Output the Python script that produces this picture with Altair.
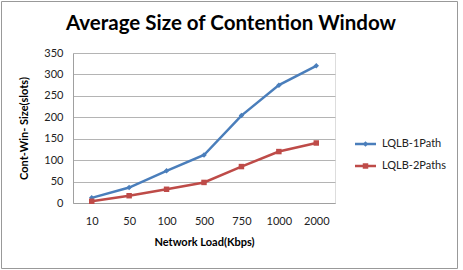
import altair as alt
import pandas as pd

loads = ["10", "50", "100", "500", "750", "1000", "2000"]
one_path = [12, 36, 75, 112, 204, 275, 320]
two_paths = [4, 17, 32, 48, 85, 120, 140]
series_names = ["LQLB-1Path", "LQLB-2Paths"]
colors = ["#4A7EBB", "#BE4B48"]
shapes = ["diamond", "square"]

rows = []
for i, l in enumerate(loads):
    rows.append({"load": l, "value": one_path[i], "series": series_names[0], "order": i})
    rows.append({"load": l, "value": two_paths[i], "series": series_names[1], "order": i})
df = pd.DataFrame(rows)
leg_df = pd.DataFrame({"series": series_names})

FONT = "Lato"

x = alt.X("load:N", sort=loads, title="Network Load(Kbps)",
          scale=alt.Scale(paddingOuter=0.5),
          axis=alt.Axis(labelAngle=0, ticks=False, domainColor="#a0a0a0",
                        labelPadding=12, titlePadding=10, labelFontSize=11,
                        titleFontSize=11, titleFontWeight="bold", labelColor="#222",
                        labelFont=FONT, titleFont=FONT, grid=False))
y = alt.Y("value:Q", title="Cont-Win- Size(slots)",
          scale=alt.Scale(domain=[0, 350], nice=False),
          axis=alt.Axis(values=[0, 50, 100, 150, 200, 250, 300, 350], ticks=False,
                        domainColor="#a0a0a0", gridColor="#b4b4b4", labelPadding=10,
                        labelFontSize=11, titleFontSize=11, titleFontWeight="bold",
                        titlePadding=14, labelColor="#222", labelFont=FONT, titleFont=FONT))

cscale = alt.Scale(domain=series_names, range=colors)
sscale = alt.Scale(domain=series_names, range=shapes)

base = alt.Chart(df)
lines = base.mark_line(strokeWidth=2.5).encode(
    x=x, y=y, color=alt.Color("series:N", scale=cscale, legend=None), order="order:Q")
points = base.mark_point(filled=True, opacity=1, size=30).encode(
    x=x, y=y,
    color=alt.Color("series:N", scale=cscale, legend=None),
    shape=alt.Shape("series:N", scale=sscale, legend=None))
main = alt.layer(lines, points)

# manual legend (line + marker + label)
ly = alt.Y("series:N", axis=None,
           scale=alt.Scale(type="point", domain=series_names, range=[91, 113], padding=0))
lbase = alt.Chart(leg_df)
leg_rule = lbase.mark_rule(strokeWidth=2.5).encode(
    x=alt.value(282), x2=alt.value(303), y=ly,
    color=alt.Color("series:N", scale=cscale, legend=None))
leg_pt = lbase.mark_point(filled=True, opacity=1, size=30).encode(
    x=alt.value(292.5), y=ly,
    color=alt.Color("series:N", scale=cscale, legend=None),
    shape=alt.Shape("series:N", scale=sscale, legend=None))
leg_txt = lbase.mark_text(align="left", baseline="middle", font=FONT, fontSize=11, color="#222").encode(
    x=alt.value(309), y=ly, text="series:N")
legend = alt.layer(leg_rule, leg_pt, leg_txt)

border = alt.Chart(pd.DataFrame({"a": [0]})).mark_rect(fill=None, stroke="#999999", strokeWidth=1).encode(
    x=alt.value(-71.5), x2=alt.value(384.5), y=alt.value(-51.5), y2=alt.value(215.5))

chart = alt.layer(main, legend, border).resolve_scale(y="independent").properties(
    width=262, height=150,
    autosize=alt.AutoSizeParams(type="none"),
    padding={"left": 73, "top": 53, "right": 128, "bottom": 67},
    title=alt.TitleParams("Average Size of Contention Window", font=FONT, fontSize=20.5,
                          fontWeight="bold", anchor="middle", dx=27, offset=-33, color="#000"),
).configure_view(stroke=None).configure(background="white")

chart.save("out.html", embed_options={"renderer": "svg", "actions": False})
